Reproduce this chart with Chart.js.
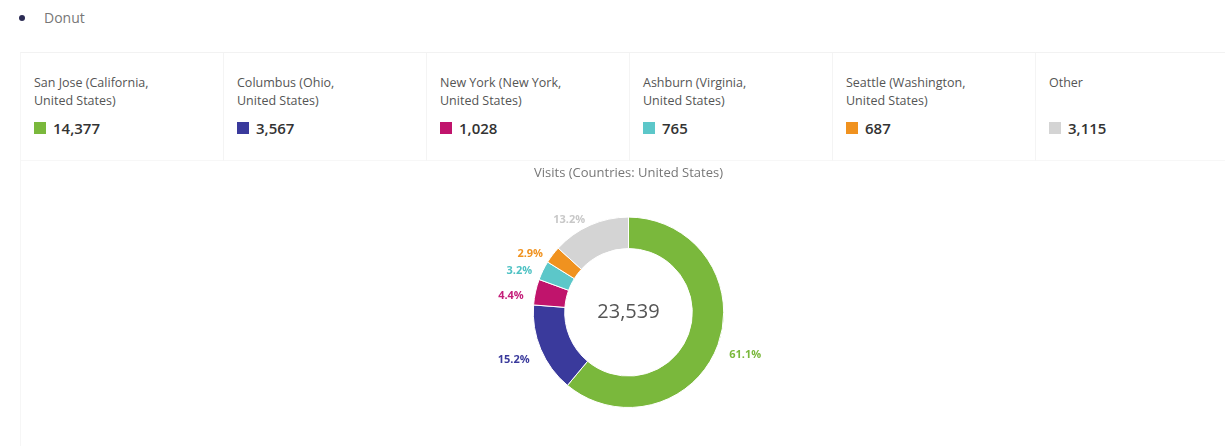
<!DOCTYPE html>
<html>
<head>
<meta charset="utf-8">
<script src="https://cdn.jsdelivr.net/npm/chart.js@4"></script>
<style>
  body { margin: 0; background: #fff; font-family: "Open Sans", sans-serif; width: 1225px; height: 446px; overflow: hidden; position: relative; }
  .head { position: absolute; left: 19px; top: 8px; font-size: 14px; color: #777; }
  .head .dot { display: inline-block; width: 6px; height: 6px; border-radius: 50%; background: #2c2c54; margin: 0 19px 2px 0; vertical-align: middle; }
  .panel { position: absolute; left: 20px; top: 52px; width: 1205px; height: 394px; border-top: 1px solid #f2f2f2; border-left: 1px solid #f6f6f6; }
  .legend { display: flex; height: 108px; }
  .cell { width: 203px; box-sizing: border-box; padding: 21px 0 0 13px; border-right: 1px solid #f4f4f4; border-bottom: 1px solid #f7f7f7; }
  .cell:last-child { border-right: none; flex: 1; }
  .name { font-size: 12.5px; line-height: 18px; color: #555; height: 36px; }
  .val { margin-top: 8px; font-size: 15px; font-weight: 600; color: #333; display: flex; align-items: center; }
  .sq { width: 12px; height: 12px; margin-right: 7px; }
  .chartbox { position: absolute; left: 0; top: 106px; width: 1205px; height: 288px; }
</style>
</head>
<body>
<div class="head"><span class="dot"></span>Donut</div>
<div class="panel">
  <div class="legend" id="legend"></div>
  <div class="chartbox"><canvas id="donut"></canvas></div>
</div>
<script>
// data
const cities = [
  ['San Jose (California,', 'United States)'],
  ['Columbus (Ohio,', 'United States)'],
  ['New York (New York,', 'United States)'],
  ['Ashburn (Virginia,', 'United States)'],
  ['Seattle (Washington,', 'United States)'],
  ['Other']
];
const visits = [14377, 3567, 1028, 765, 687, 3115];
const colors = ['#7ab83c', '#3a3a9c', '#c0146c', '#5cc7c9', '#f0921f', '#d4d4d4'];
const labelColors = ['#7ab83c', '#3a3a9c', '#c4207a', '#4fc2c4', '#f0921f', '#c8c8c8'];
const chartTitle = 'Visits (Countries: United States)';

const fmt = n => n.toLocaleString('en-US');
const total = visits.reduce((a, b) => a + b, 0);

// legend row
const legend = document.getElementById('legend');
cities.forEach((c, i) => {
  const cell = document.createElement('div');
  cell.className = 'cell';
  cell.innerHTML = '<div class="name">' + c.join('<br>') + '</div>' +
    '<div class="val"><span class="sq" style="background:' + colors[i] + '"></span>' + fmt(visits[i]) + '</div>';
  legend.appendChild(cell);
});

// total in the middle + percent labels outside the ring
const donutText = {
  id: 'donutText',
  afterDatasetsDraw(chart) {
    const ctx = chart.ctx;
    const arcs = chart.getDatasetMeta(0).data;
    ctx.save();
    const c = arcs[0];
    ctx.fillStyle = '#555';
    ctx.font = '20px "Open Sans"';
    ctx.textAlign = 'center';
    ctx.textBaseline = 'middle';
    ctx.fillText(fmt(total), c.x, c.y);

    ctx.font = 'bold 11px "Open Sans"';
    arcs.forEach((arc, i) => {
      const mid = (arc.startAngle + arc.endAngle) / 2;
      const r = arc.outerRadius + 12;
      const x = arc.x + Math.cos(mid) * r;
      const y = arc.y + Math.sin(mid) * r + 6;
      ctx.fillStyle = labelColors[i];
      ctx.textAlign = Math.cos(mid) >= 0 ? 'left' : 'right';
      ctx.fillText((visits[i] / total * 100).toFixed(1) + '%', x, y);
    });
    ctx.restore();
  }
};

const donutCtx = document.getElementById('donut').getContext('2d');
const donutChart = new Chart(donutCtx, {
  type: 'doughnut',
  data: {
    labels: cities.map(c => c.join(' ')),
    datasets: [{
      label: 'Visits',
      data: visits,
      backgroundColor: colors,
      borderColor: '#fff',
      borderWidth: 1
    }]
  },
  options: {
    responsive: true,
    maintainAspectRatio: false,
    animation: false,
    cutout: '67%',
    layout: { padding: { left: 10, bottom: 39 } },
    plugins: {
      legend: { display: false },
      tooltip: { enabled: false },
      title: {
        display: true,
        text: chartTitle,
        color: '#777',
        font: { family: 'Open Sans', size: 13, weight: 'normal' },
        padding: { top: 6, bottom: 36 }
      }
    }
  },
  plugins: [donutText]
});
</script>
</body>
</html>
